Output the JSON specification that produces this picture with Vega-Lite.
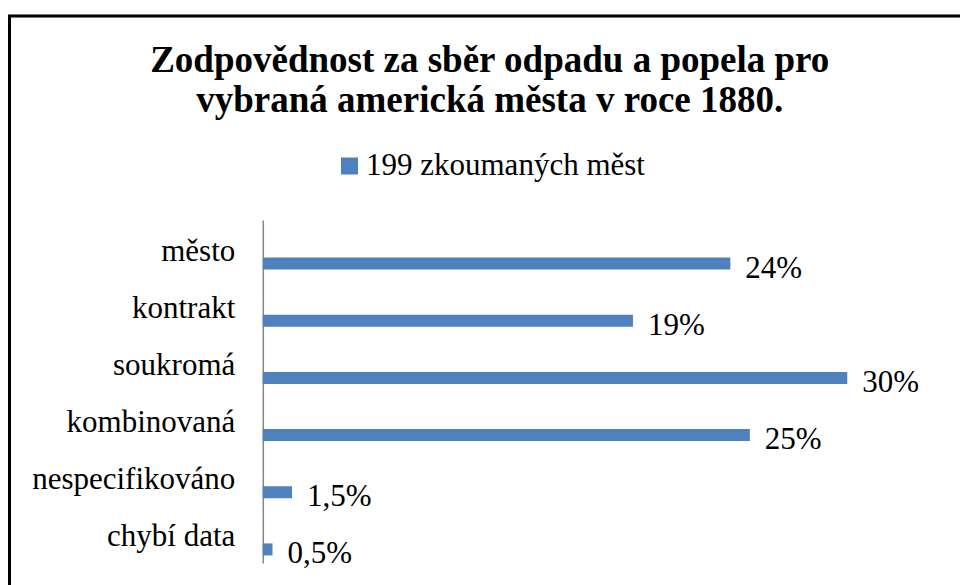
{
  "$schema": "https://vega.github.io/schema/vega-lite/v6.json",
  "width": 960.5,
  "height": 600,
  "autosize": {"type": "none"},
  "padding": {"left": 9.5, "top": 16, "right": -10, "bottom": -31},
  "background": "white",
  "title": {
    "text": ["Zodpovědnost za sběr odpadu a popela pro", "vybraná americká města v roce 1880."],
    "font": "Liberation Serif",
    "fontSize": 37,
    "fontWeight": "bold",
    "color": "black",
    "anchor": "middle",
    "frame": "group",
    "baseline": "top",
    "lineHeight": 40,
    "offset": -104
  },
  "config": {
    "view": {"stroke": "black", "strokeWidth": 3},
    "font": "Liberation Serif"
  },
  "data": {
    "values": [
      {"kategorie": "město", "podil": 24, "popis": "24%", "serie": "199 zkoumaných měst"},
      {"kategorie": "kontrakt", "podil": 19, "popis": "19%", "serie": "199 zkoumaných měst"},
      {"kategorie": "soukromá", "podil": 30, "popis": "30%", "serie": "199 zkoumaných měst"},
      {"kategorie": "kombinovaná", "podil": 25, "popis": "25%", "serie": "199 zkoumaných měst"},
      {"kategorie": "nespecifikováno", "podil": 1.5, "popis": "1,5%", "serie": "199 zkoumaných měst"},
      {"kategorie": "chybí data", "podil": 0.5, "popis": "0,5%", "serie": "199 zkoumaných měst"}
    ]
  },
  "encoding": {
    "y": {
      "field": "kategorie",
      "type": "nominal",
      "sort": null,
      "scale": {"range": [204, 547], "paddingInner": 0, "paddingOuter": 0},
      "axis": {
        "title": null,
        "orient": "left",
        "offset": -253.3,
        "domainColor": "#868686",
        "domainWidth": 1.5,
        "ticks": false,
        "labelPadding": 28,
        "labelFont": "Liberation Serif",
        "labelFontSize": 31,
        "labelColor": "black",
        "labelBaseline": "alphabetic",
        "labelOffset": 12,
        "labelLimit": 0,
        "grid": false
      }
    },
    "x": {
      "field": "podil",
      "type": "quantitative",
      "scale": {"domain": [-13.0, 36.3], "nice": false, "zero": false},
      "axis": null
    }
  },
  "layer": [
    {
      "mark": {"type": "bar", "size": 12, "yOffset": 15},
      "encoding": {
        "color": {
          "field": "serie",
          "type": "nominal",
          "scale": {"domain": ["199 zkoumaných měst"], "range": ["#4F81BD"]},
          "legend": {
            "title": null,
            "orient": "none",
            "legendX": 324.5,
            "legendY": 134.5,
            "padding": 0,
            "symbolType": "square",
            "symbolSize": 289,
            "symbolStrokeWidth": 0,
            "labelFont": "Liberation Serif",
            "labelFontSize": 31,
            "labelColor": "black",
            "labelOffset": 1,
            "labelLimit": 0
          }
        }
      }
    },
    {
      "mark": {
        "type": "text",
        "align": "left",
        "baseline": "alphabetic",
        "dx": 15,
        "yOffset": 29,
        "font": "Liberation Serif",
        "fontSize": 31,
        "color": "black"
      },
      "encoding": {
        "text": {"field": "popis"}
      }
    }
  ]
}
